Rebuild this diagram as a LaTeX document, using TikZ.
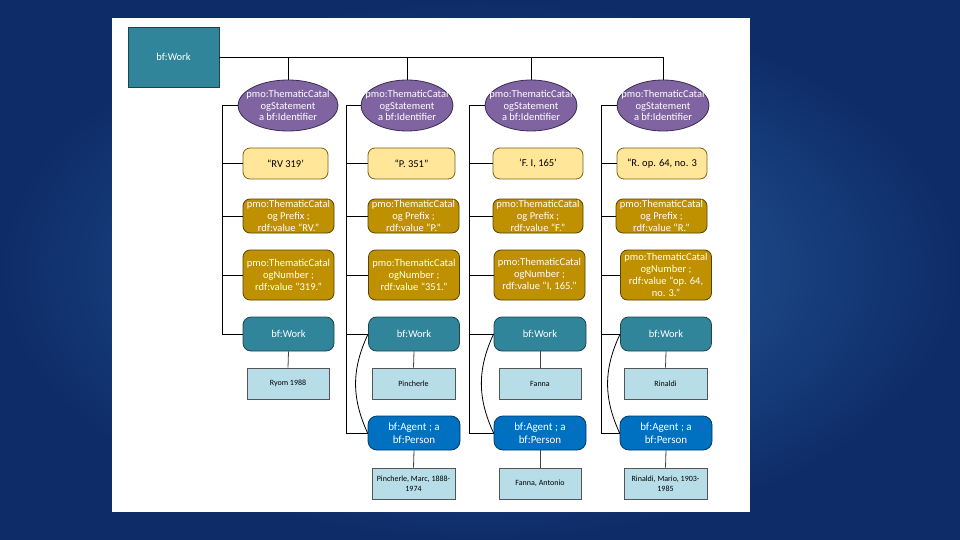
\documentclass[tikz,border=0pt]{standalone}
\usepackage{fontspec}
\setmainfont{Carlito}
\usetikzlibrary{shapes.geometric}
\definecolor{bgin}{RGB}{42,102,164}
\definecolor{bgout}{RGB}{14,44,104}
\definecolor{teal}{RGB}{49,133,155}
\definecolor{tealdark}{RGB}{28,68,80}
\definecolor{purp}{RGB}{128,100,162}
\definecolor{purpdark}{RGB}{58,44,82}
\definecolor{yel}{RGB}{255,230,153}
\definecolor{yeldark}{RGB}{125,98,20}
\definecolor{gold}{RGB}{191,144,0}
\definecolor{golddark}{RGB}{88,66,0}
\definecolor{lblue}{RGB}{183,222,232}
\definecolor{lbluedark}{RGB}{85,85,85}
\definecolor{agent}{RGB}{0,112,192}
\definecolor{agentdark}{RGB}{0,58,108}
\tikzset{
  base/.style={inner sep=0pt, align=center, line width=0.8pt, font=\fontsize{10.5}{12}\selectfont},
  topwork/.style={base, rectangle, fill=teal, draw=tealdark, text=white, minimum width=91pt, minimum height=60pt},
  ident/.style={base, ellipse, fill=purp, draw=purpdark, minimum height=51pt},
  identtext/.style={align=center, inner sep=0pt, text=white, font=\fontsize{10.5}{11.5}\selectfont},
  yelbox/.style={base, rectangle, rounded corners=7pt, fill=yel, draw=yeldark, text=black, minimum height=31pt},
  goldbox/.style={base, rectangle, rounded corners=7pt, fill=gold, draw=golddark, text=white},
  workbox/.style={base, rectangle, rounded corners=8pt, fill=teal, draw=tealdark, text=white, minimum width=91pt, minimum height=34pt},
  lbbox/.style={base, rectangle, fill=lblue, draw=lbluedark, text=black, minimum width=82pt, minimum height=31pt, font=\fontsize{8}{10.5}\selectfont},
  agentbox/.style={base, rectangle, rounded corners=9pt, fill=agent, draw=agentdark, text=white, minimum width=92pt, minimum height=34pt, font=\fontsize{11}{13}\selectfont},
  conn/.style={draw=black, line width=0.8pt},
  lconn/.style={draw=black!75, line width=0.8pt}
}
\begin{document}
\begin{tikzpicture}[x=1pt,y=-1pt]
\useasboundingbox (0,0) rectangle (960,540);
\shade[inner color=bgin, outer color=bgout] (0,0) rectangle (960,540);
\fill[white] (112,18) rectangle (750,512);

% top work
\node[topwork] (top) at (173.5,57) {bf:Work};

% column coordinates for brackets
\coordinate (b1) at (222,0);
\coordinate (b2) at (346,0);
\coordinate (b3) at (469,0);
\coordinate (b4) at (601,0);

% column 1
\node[ident, minimum width=100pt, label={[identtext]center:{pmo:ThematicCatal\\ogStatement\\a bf:Identifier}}] (e1) at (288,105.5) {};
\node[yelbox, minimum width=85pt] (y1) at (285.5,163.5) {“RV 319’};
\node[goldbox, minimum width=91pt, minimum height=34pt] (p1) at (288.5,216) {pmo:ThematicCatal\\og Prefix ;\\rdf:value “RV.”};
\node[goldbox, minimum width=91pt, minimum height=50pt] (n1) at (288.5,275) {pmo:ThematicCatal\\ogNumber ;\\rdf:value “319.”};
\node[workbox] (w1) at (288.5,334) {bf:Work};
\node[lbbox] (l1) at (288,383.5) {Ryom 1988};

% column 2
\node[ident, minimum width=92pt, label={[identtext]center:{pmo:ThematicCatal\\ogStatement\\a bf:Identifier}}] (e2) at (407,105.5) {};
\node[yelbox, minimum width=87pt] (y2) at (411.5,163.5) {“P. 351”};
\node[goldbox, minimum width=91pt, minimum height=34pt] (p2) at (413.5,216) {pmo:ThematicCatal\\og Prefix ;\\rdf:value “P.”};
\node[goldbox, minimum width=91pt, minimum height=50pt] (n2) at (414,275) {pmo:ThematicCatal\\ogNumber ;\\rdf:value “351.”};
\node[workbox] (w2) at (414,334) {bf:Work};
\node[lbbox, minimum width=83pt] (l2) at (413.5,383.5) {Pincherle};
\node[agentbox] (a2) at (414,433) {bf:Agent ; a\\bf:Person};
\node[lbbox, minimum width=83pt] (m2) at (413.5,483.5) {Pincherle, Marc, 1888-\\1974};

% column 3
\node[ident, minimum width=92pt, label={[identtext]center:{pmo:ThematicCatal\\ogStatement\\a bf:Identifier}}] (e3) at (531,105.5) {};
\node[yelbox, minimum width=90pt] (y3) at (538,163.5) {‘F. I, 165’};
\node[goldbox, minimum width=90pt, minimum height=34pt] (p3) at (538,216) {pmo:ThematicCatal\\og Prefix ;\\rdf:value “F.”};
\node[goldbox, minimum width=91pt, minimum height=50pt] (n3) at (539.5,275) {pmo:ThematicCatal\\ogNumber ;\\rdf:value “I, 165.”};
\node[workbox, minimum width=92pt] (w3) at (540,334) {bf:Work};
\node[lbbox] (l3) at (540,383.5) {Fanna};
\node[agentbox] (a3) at (540,433) {bf:Agent ; a\\bf:Person};
\node[lbbox] (m3) at (540,483.5) {Fanna, Antonio};

% column 4
\node[ident, minimum width=92pt, label={[identtext]center:{pmo:ThematicCatal\\ogStatement\\a bf:Identifier}}] (e4) at (663,105.5) {};
\node[yelbox, minimum width=90pt] (y4) at (662,163.5) {“R. op. 64, no. 3};
\node[goldbox, minimum width=91pt, minimum height=34pt] (p4) at (661.5,216) {pmo:ThematicCatal\\og Prefix ;\\rdf:value “R.”};
\node[goldbox, minimum width=91pt, minimum height=50pt] (n4) at (666,275) {pmo:ThematicCatal\\ogNumber ;\\rdf:value “op. 64,\\no. 3.”};
\node[workbox] (w4) at (666,334) {bf:Work};
\node[lbbox, minimum width=83pt] (l4) at (665.5,383.5) {Rinaldi};
\node[agentbox] (a4) at (666,433) {bf:Agent ; a\\bf:Person};
\node[lbbox, minimum width=83pt] (m4) at (665.5,483.5) {Rinaldi, Mario, 1903-\\1985};

% top connectors
\draw[conn] (top.east) -| (e4.north);
\draw[conn] (e1.north) -- (e1.north |- top.east);
\draw[conn] (e2.north) -- (e2.north |- top.east);
\draw[conn] (e3.north) -- (e3.north |- top.east);

% column 1 brackets
\draw[conn] (e1.west) -- (e1.west -| b1) |- (w1.west);
\foreach \n in {y1,p1,n1} \draw[conn] (\n.west) -- (\n.west -| b1);
\draw[lconn] (w1.south) -- (l1.north);

% column 2
\draw[conn] (e2.west) -- (e2.west -| b2) |- (a2.west);
\foreach \n in {y2,p2,n2,w2} \draw[conn] (\n.west) -- (\n.west -| b2);
\draw[conn] (w2.west) to[bend right=25] (a2.west);
\draw[lconn] (w2.south) -- (l2.north);
\draw[lconn] (a2.south) -- (m2.north);

% column 3
\draw[conn] (e3.west) -- (e3.west -| b3) |- (a3.west);
\foreach \n in {y3,p3,n3,w3} \draw[conn] (\n.west) -- (\n.west -| b3);
\draw[conn] (w3.west) to[bend right=25] (a3.west);
\draw[lconn] (w3.south) -- (l3.north);
\draw[lconn] (a3.south) -- (m3.north);

% column 4
\draw[conn] (e4.west) -- (e4.west -| b4) |- (a4.west);
\foreach \n in {y4,p4,n4,w4} \draw[conn] (\n.west) -- (\n.west -| b4);
\draw[conn] (w4.west) to[bend right=25] (a4.west);
\draw[lconn] (w4.south) -- (l4.north);
\draw[lconn] (a4.south) -- (m4.north);
\end{tikzpicture}
\end{document}
